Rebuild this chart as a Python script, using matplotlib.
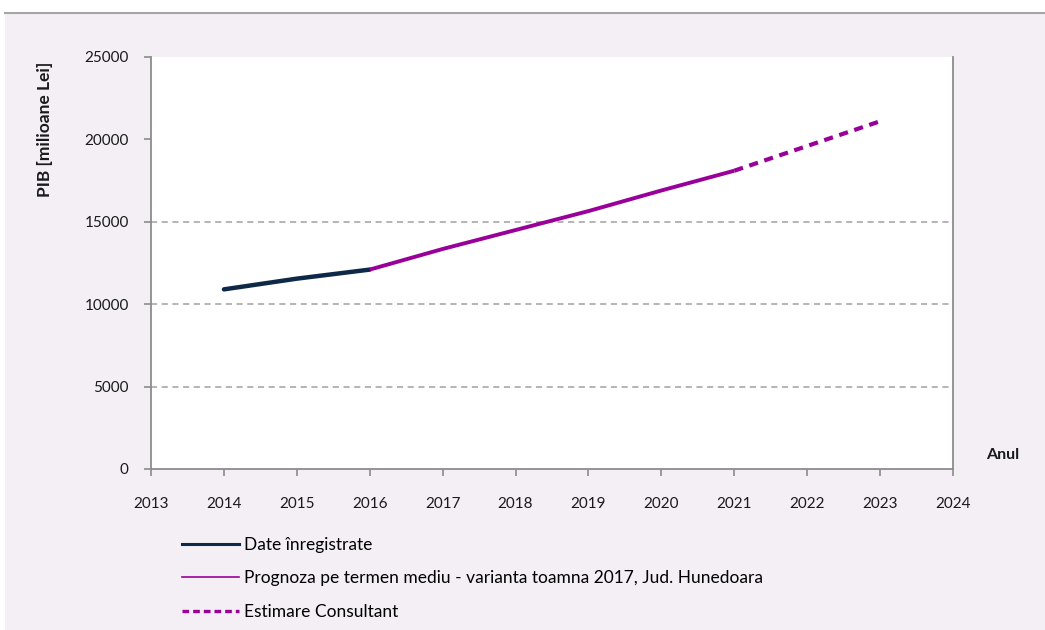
import matplotlib
matplotlib.use("Agg")
import matplotlib.pyplot as plt
from matplotlib.lines import Line2D

# data
years_recorded = [2014, 2015, 2016]
pib_recorded = [10900, 11550, 12100]
years_forecast = [2016, 2017, 2018, 2019, 2020, 2021]
pib_forecast = [12100, 13350, 14500, 15650, 16900, 18100]
years_estimate = [2021, 2022, 2023]
pib_estimate = [18100, 19600, 21100]
x_ticks = list(range(2013, 2025))
y_ticks = [0, 5000, 10000, 15000, 20000, 25000]
grid_levels = [5000, 10000, 15000]
labels = ["Date înregistrate",
          "Prognoza pe termen mediu - varianta toamna 2017, Jud. Hunedoara",
          "Estimare Consultant"]

plt.rcParams['font.family'] = ['Lato', 'DejaVu Sans']

W, H = 1045, 630
fig = plt.figure(figsize=(W / 100, H / 100), dpi=100, facecolor='white')

# lavender background panel with grey top line
bg = plt.Rectangle((5 / W, 0), 1 - 5 / W, 1 - 13 / H, transform=fig.transFigure,
                   facecolor='#f3eff5', edgecolor='none', zorder=-10)
fig.patches.append(bg)
fig.add_artist(Line2D([5 / W, 1], [1 - 13 / H, 1 - 13 / H], transform=fig.transFigure,
                      color='#a6a6a6', lw=1.5, zorder=-5))

ax = fig.add_axes([151 / W, 1 - 469 / H, (953 - 151) / W, (469 - 57) / H])
ax.set_facecolor('white')

navy = '#0e2947'
purple = '#990099'
grid_col = '#a0a0a0'
spine_col = '#8c8c8c'

for g in grid_levels:
    ax.axhline(g, color=grid_col, lw=1.1, linestyle=(0, (4, 3)), zorder=1)

ax.plot(years_recorded, pib_recorded, color=navy, lw=3.2, solid_capstyle='round', zorder=3)
ax.plot(years_forecast, pib_forecast, color=purple, lw=2.8, solid_capstyle='butt', zorder=3)
ax.plot(years_estimate, pib_estimate, color=purple, lw=3.0, linestyle=(0, (2.2, 1.6)), zorder=3)

ax.set_xlim(2013, 2024)
ax.set_ylim(0, 25000)
ax.set_xticks(x_ticks)
ax.set_xticklabels([str(x) for x in x_ticks])
ax.set_yticks(y_ticks)
ax.set_yticklabels([str(y) for y in y_ticks])

for s in ['left', 'bottom', 'right']:
    ax.spines[s].set_color(spine_col)
    ax.spines[s].set_linewidth(1.3)
ax.spines['top'].set_visible(False)

ax.tick_params(axis='x', length=5, width=1.2, color=spine_col, pad=15, labelsize=11, labelcolor='#1a1a1a')
ax.tick_params(axis='y', length=5, width=1.2, color=spine_col, pad=11, labelsize=11, labelcolor='#1a1a1a')

fig.text(45 / W, 1 - 129 / H, "PIB [milioane Lei]", rotation=90, ha='center', va='center',
         fontsize=12.5, fontweight='bold', color='#1a1a1a')
fig.text(1003 / W, 1 - 455 / H, "Anul", ha='center', va='center',
         fontsize=11.5, fontweight='bold', color='#1a1a1a')

handles = [
    Line2D([], [], color=navy, lw=2.2),
    Line2D([], [], color=purple, lw=1.2),
    Line2D([], [], color=purple, lw=2.4, linestyle=(0, (2, 1.2))),
]
fig.legend(handles, labels, loc='upper left', bbox_to_anchor=(182 / W, 1 - 537 / H),
           frameon=False, fontsize=12.5, handlelength=3.3, handletextpad=0.25,
           labelspacing=1.0, borderaxespad=0, borderpad=0)

fig.savefig("out.png", dpi=100, facecolor=fig.get_facecolor())
